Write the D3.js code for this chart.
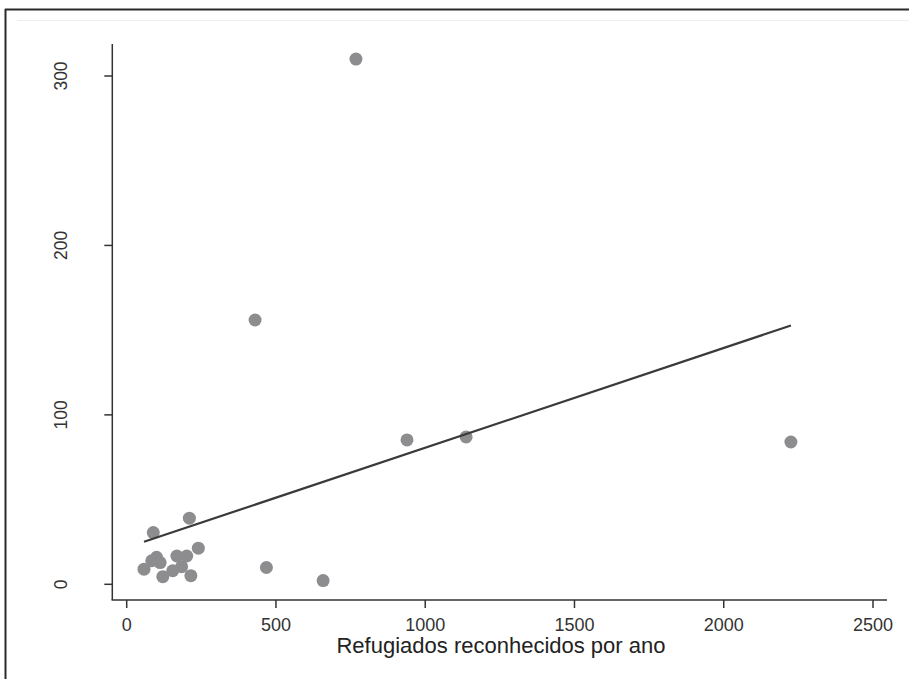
<!DOCTYPE html>
<html>
<head>
<meta charset="utf-8">
<script src="https://cdn.jsdelivr.net/npm/d3@7"></script>
<style>
  body { margin: 0; background: #fff; }
  svg { display: block; font-family: "Liberation Sans", Arial, sans-serif; }
</style>
</head>
<body>
<script>
// refugees recognised per year (x) vs second variable (y)
var refugiados = [58, 84, 100, 112, 121, 154, 168, 184, 201, 215, 240, 89, 210, 468, 658, 430, 768, 939, 1137, 2225];
var valores    = [8.9, 13.9, 15.9, 12.8, 4.5, 8.0, 16.7, 10.4, 16.7, 5.1, 21.3, 30.5, 39.0, 9.9, 2.2, 156, 310, 85.2, 87, 84];

var xTicks = [0, 500, 1000, 1500, 2000, 2500];
var yTicks = [0, 100, 200, 300];
var xTitle = "Refugiados reconhecidos por ano";

var width = 909, height = 679;

var svg = d3.select("body").append("svg")
    .attr("width", width)
    .attr("height", height);

// frame (cropped figure border)
svg.append("line").attr("x1", 5).attr("y1", 9.5).attr("x2", width).attr("y2", 9.5)
    .attr("stroke", "#2a2a2a").attr("stroke-width", 2);
svg.append("line").attr("x1", 5.5).attr("y1", 9).attr("x2", 5.5).attr("y2", height)
    .attr("stroke", "#2a2a2a").attr("stroke-width", 2);
svg.append("line").attr("x1", 17).attr("y1", 20.5).attr("x2", width).attr("y2", 20.5)
    .attr("stroke", "#eeeeee").attr("stroke-width", 1);

var xScale = d3.scaleLinear().domain([0, 2500]).range([126.7, 873]);
var yScale = d3.scaleLinear().domain([0, 300]).range([584.3, 76]);

var axisY = 600, axisX = 112.3;
var axisColor = "#333";

// axis lines
svg.append("line")
    .attr("x1", axisX).attr("x2", axisX)
    .attr("y1", 44).attr("y2", axisY)
    .attr("stroke", axisColor).attr("stroke-width", 1.5);
svg.append("line")
    .attr("x1", axisX - 0.75).attr("x2", 887)
    .attr("y1", axisY).attr("y2", axisY)
    .attr("stroke", axisColor).attr("stroke-width", 1.5);

// x ticks
var xg = svg.append("g").attr("class", "xticks");
xg.selectAll("line").data(xTicks).join("line")
    .attr("x1", d => xScale(d)).attr("x2", d => xScale(d))
    .attr("y1", axisY).attr("y2", axisY + 8)
    .attr("stroke", axisColor).attr("stroke-width", 1.5);
xg.selectAll("text").data(xTicks).join("text")
    .attr("x", d => xScale(d)).attr("y", 630.5)
    .attr("text-anchor", "middle")
    .attr("font-size", 18)
    .attr("fill", "#333")
    .text(d => d);

// y ticks
var yg = svg.append("g").attr("class", "yticks");
yg.selectAll("line").data(yTicks).join("line")
    .attr("x1", axisX - 8).attr("x2", axisX)
    .attr("y1", d => yScale(d)).attr("y2", d => yScale(d))
    .attr("stroke", axisColor).attr("stroke-width", 1.5);
yg.selectAll("text").data(yTicks).join("text")
    .attr("transform", d => "translate(66.5," + yScale(d) + ") rotate(-90)")
    .attr("text-anchor", "middle")
    .attr("font-size", 17.5)
    .attr("fill", "#333")
    .text(d => d);

// x title
svg.append("text")
    .attr("x", 501).attr("y", 653)
    .attr("text-anchor", "middle")
    .attr("font-size", 22)
    .attr("fill", "#222")
    .text(xTitle);

// points
var pts = refugiados.map((x, i) => ({ x: x, y: valores[i] }));
svg.append("g").selectAll("circle").data(pts).join("circle")
    .attr("cx", d => xScale(d.x))
    .attr("cy", d => yScale(d.y))
    .attr("r", 6.5)
    .attr("fill", "#8d8d8f");

// linear fit (least squares)
var mx = d3.mean(pts, d => d.x), my = d3.mean(pts, d => d.y);
var sxy = d3.sum(pts, d => (d.x - mx) * (d.y - my));
var sxx = d3.sum(pts, d => (d.x - mx) * (d.x - mx));
var b = sxy / sxx, a = my - b * mx;
var ext = d3.extent(pts, d => d.x);
var fit = ext.map(x => ({ x: x, y: a + b * x }));

svg.append("path")
    .datum(fit)
    .attr("d", d3.line().x(d => xScale(d.x)).y(d => yScale(d.y)))
    .attr("fill", "none")
    .attr("stroke", "#3a3a3a")
    .attr("stroke-width", 2.2);
</script>
</body>
</html>
